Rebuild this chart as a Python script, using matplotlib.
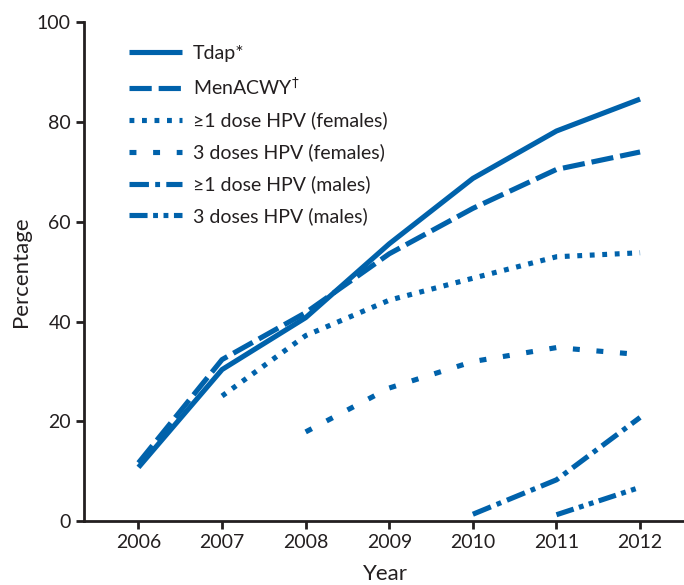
import matplotlib.pyplot as plt
import numpy as np

plt.rcParams['font.family'] = ['Lato', 'DejaVu Sans']
plt.rcParams['lines.scale_dashes'] = False

years = [2006, 2007, 2008, 2009, 2010, 2011, 2012]
tdap = [10.8, 30.4, 40.8, 55.6, 68.7, 78.2, 84.6]
menacwy = [11.7, 32.4, 41.8, 53.6, 62.7, 70.5, 74.0]
hpv1_f_years = [2007, 2008, 2009, 2010, 2011, 2012]
hpv1_f = [25.1, 37.2, 44.3, 48.7, 53.0, 53.8]
hpv3_f_years = [2008, 2009, 2010, 2011, 2012]
hpv3_f = [17.9, 26.7, 32.0, 34.8, 33.4]
hpv1_m_years = [2010, 2011, 2012]
hpv1_m = [1.4, 8.3, 20.8]
hpv3_m_years = [2011, 2012]
hpv3_m = [1.3, 6.8]

labels = ['Tdap*', 'MenACWY$^{\u2020}$', '\u22651 dose HPV (females)', '3 doses HPV (females)',
          '\u22651 dose HPV (males)', '3 doses HPV (males)']

blue = '#0062ab'
lw = 3.7
styles = ['-', (0, (16, 5)), (0, (3.5, 5.5)), (0, (5, 12)),
          (0, (14, 4.5, 3.5, 4.5)), (0, (13, 4, 3.5, 4, 3.5, 4))]

fig = plt.figure(figsize=(6.84, 5.85), dpi=100)
ax = fig.add_axes([0.123, 0.109, 0.88, 0.853])

series = [(years, tdap), (years, menacwy), (hpv1_f_years, hpv1_f), (hpv3_f_years, hpv3_f),
          (hpv1_m_years, hpv1_m), (hpv3_m_years, hpv3_m)]
for (x, y), ls, lab in zip(series, styles, labels):
    ax.plot(x, y, color=blue, lw=lw, linestyle=ls, label=lab,
            dash_capstyle='butt', solid_capstyle='butt')

ax.set_xlim(2005.35, 2012.55)
ax.set_ylim(0, 100)
ax.set_xticks(years)
ax.set_yticks(np.arange(0, 101, 20))
ax.spines['top'].set_visible(False)
ax.spines['right'].set_visible(False)
for s in ['left', 'bottom']:
    ax.spines[s].set_linewidth(2)
    ax.spines[s].set_color('#231f20')
ax.tick_params(width=2, length=6, color='#231f20', labelsize=14, labelcolor='#231f20')
ax.set_xlabel('Year', fontsize=16, color='#231f20', labelpad=9)
ax.set_ylabel('Percentage', fontsize=16, color='#231f20', labelpad=4)

leg = ax.legend(loc='upper left', bbox_to_anchor=(0.045, 0.99), frameon=False,
                fontsize=14, handlelength=2.75, labelspacing=0.72, handletextpad=0.55,
                labelcolor='#231f20')

fig.savefig('out.png', dpi=100)
